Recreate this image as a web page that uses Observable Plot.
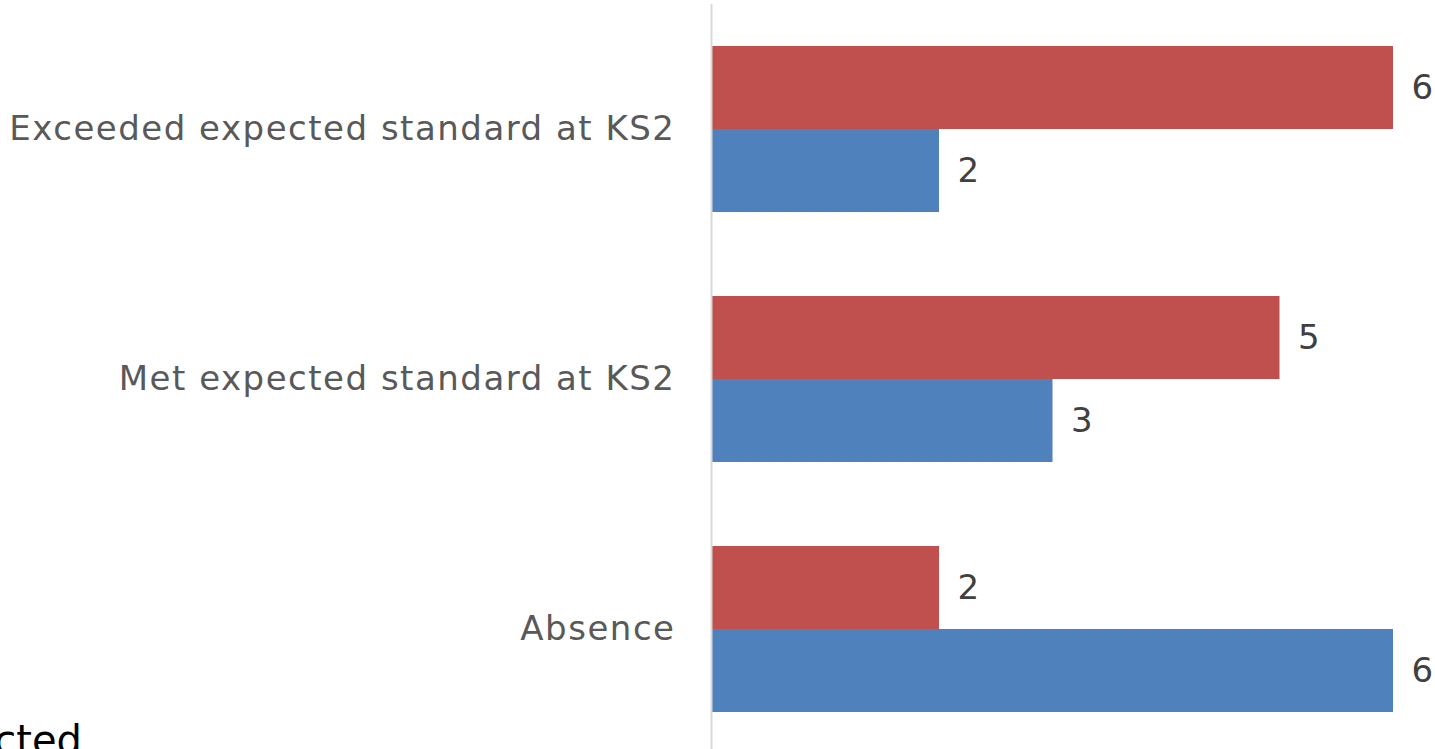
<!DOCTYPE html>
<html>
<head>
<meta charset="utf-8">
<script src="https://cdn.jsdelivr.net/npm/d3@7"></script>
<script src="https://cdn.jsdelivr.net/npm/@observablehq/plot@0.6"></script>
<style>
  html, body { margin: 0; padding: 0; background: #fff; overflow: hidden; }
  #wrap { position: relative; width: 1435px; height: 749px; }
  #frag { position: absolute; left: 0; top: 717px; width: 82px; display: flex; justify-content: flex-end;
          overflow: hidden; font-family: "DejaVu Sans", sans-serif; font-size: 40px; color: #000; white-space: nowrap; }
</style>
</head>
<body>
<div id="wrap">
  <div id="chart"></div>
  <div id="frag"><span>Expected</span></div>
</div>
<script>
const categories = ["Exceeded expected standard at KS2", "Met expected standard at KS2", "Absence"];
const seriesNames = ["Series 1", "Series 2"];
const series1 = [6, 5, 2];
const series2 = [2, 3, 6];
const seriesColors = ["#C0504D", "#4F81BD"];

const data = [];
categories.forEach((c, i) => {
  data.push({category: c, series: seriesNames[0], value: series1[i]});
  data.push({category: c, series: seriesNames[1], value: series2[i]});
});

const chart = Plot.plot({
  width: 1435,
  height: 749,
  marginLeft: 712,
  marginRight: 42,
  marginTop: 46,
  marginBottom: 37,
  style: {fontFamily: "DejaVu Sans, sans-serif", fontSize: "34px", background: "#fff"},
  x: {domain: [0, 6], axis: null},
  y: {domain: seriesNames, padding: 0, axis: null},
  fy: {domain: categories, paddingInner: 0.336, paddingOuter: 0, label: null},
  color: {domain: seriesNames, range: seriesColors},
  marks: [
    Plot.barX(data, {fy: "category", y: "series", x: "value", fill: "series"}),
    Plot.text(data, {fy: "category", y: "series", x: "value", text: d => String(d.value),
      textAnchor: "start", dx: 18, fill: "#404040", fontSize: 34}),
    Plot.ruleX([0], {stroke: "#d9d9d9", strokeWidth: 2, dx: -1, insetTop: -42, insetBottom: -42}),
    Plot.axisFy({anchor: "left", tickSize: 0, tickPadding: 37, label: null, fill: "#595959", fontSize: 34})
  ]
});
chart.querySelectorAll("[aria-label='fy-axis tick label'] text").forEach(t => t.style.letterSpacing = "1.5px");
document.getElementById("chart").appendChild(chart);
</script>
</body>
</html>
